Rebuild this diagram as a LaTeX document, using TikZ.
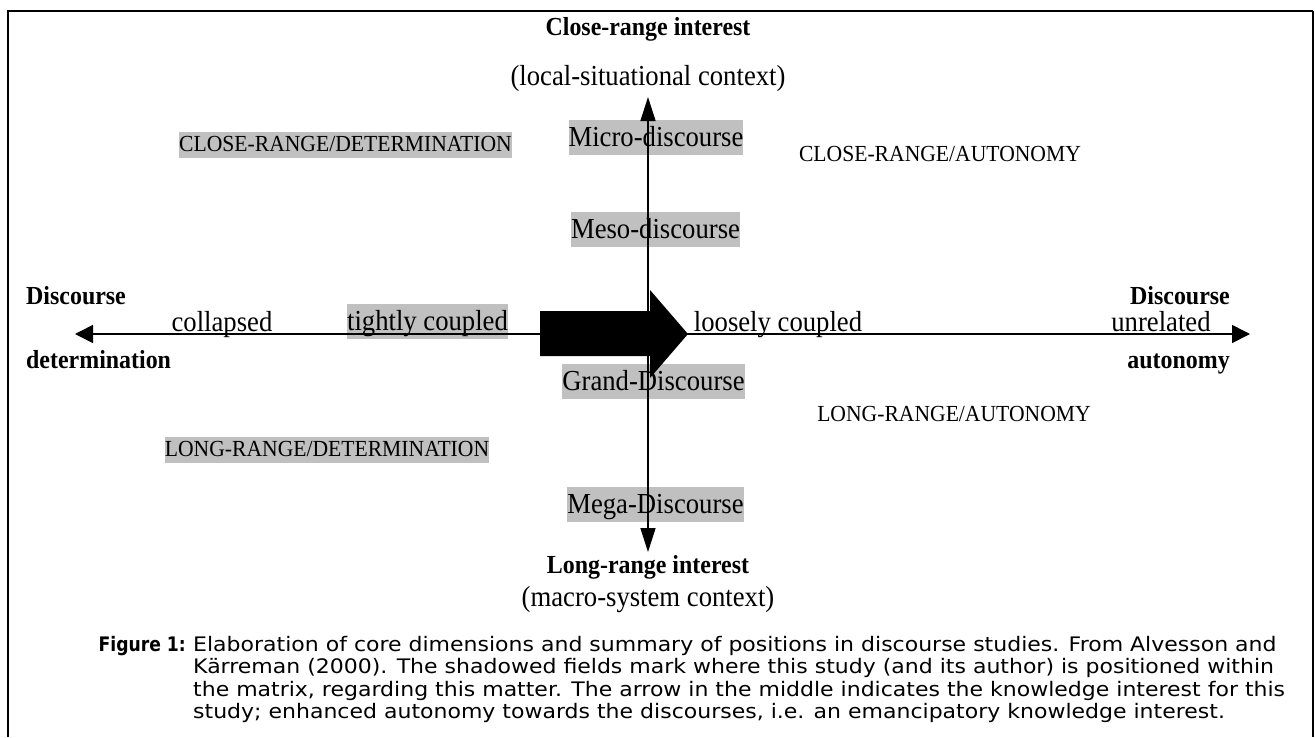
\documentclass[tikz,border=0pt]{standalone}
\usepackage{fontspec}
\setmainfont{Liberation Serif}
\newfontfamily\lblfont{Liberation Serif}[FakeStretch=0.92]
\newfontfamily\quadfont{Liberation Serif}[FakeStretch=0.94]
\newfontfamily\capfont{DejaVu Sans}[FakeStretch=1.1]
\newfontfamily\capboldfont{DejaVu Sans}[FakeStretch=0.86]
\usetikzlibrary{arrows.meta}
\definecolor{shade}{RGB}{192,192,192}
\tikzset{
  lbl/.style={font=\lblfont\fontsize{29}{32}\selectfont, inner sep=0pt, text height=25pt, text depth=7pt},
  blbl/.style={font=\lblfont\bfseries\fontsize{26}{30}\selectfont, inner sep=0pt, text height=21pt, text depth=6pt},
  quad/.style={font=\quadfont\fontsize{23}{26}\selectfont, inner xsep=0pt, inner ysep=0.5pt, text height=18.5pt, text depth=6pt},
  shaded/.style={fill=shade, inner xsep=0pt, inner ysep=1.5pt},
  axis/.style={line width=1.6pt},
  vtip/.style={-{Triangle[length=24pt,width=15pt]}},
  htip/.style={-{Triangle[length=18pt,width=18pt]}},
  capt/.style={font=\capfont\fontsize{20}{22.5}\selectfont, inner sep=0pt, anchor=base west},
  frame/.style={line width=2.5pt}
}
\begin{document}
\begin{tikzpicture}[x=1pt,y=-1pt]
\useasboundingbox (0,0) rectangle (1315,737);
% frame
\draw[frame] (8,737) -- (8,11) -- (1313,11);
\draw[line width=1.2pt] (1313,11) -- (1313,737);

% headings
\node[blbl] (cri) at (648,28) {Close-range interest};
\node[lbl] (lsc) at (648,76) {(local-situational context)};
\node[blbl] (lri) at (648,566) {Long-range interest};
\node[lbl] (msc) at (648,597) {(macro-system context)};

% shaded discourse levels
\node[lbl,shaded] (micro) at (656,137) {Micro-discourse};
\node[lbl,shaded] (meso) at (655.5,229) {Meso-discourse};
\node[lbl,shaded] (grand) at (653.5,381) {Grand-Discourse};
\node[lbl,shaded] (mega) at (655.5,504.5) {Mega-Discourse};

% quadrants
\node[quad,fill=shade] (crd) at (345.5,145) {CLOSE-RANGE/DETERMINATION};
\node[quad] (cra) at (940,155) {CLOSE-RANGE/AUTONOMY};
\node[quad,fill=shade] (lrd) at (327,450) {LONG-RANGE/DETERMINATION};
\node[quad] (lra) at (954,415) {LONG-RANGE/AUTONOMY};

% horizontal labels
\node[blbl,anchor=west] (dleft) at (26,297) {Discourse};
\node[blbl,anchor=west] (det) at (26,361) {determination};
\node[blbl,anchor=east] (dright) at (1230,297) {Discourse};
\node[blbl,anchor=east] (aut) at (1230,361) {autonomy};
\node[lbl] (coll) at (222,322) {collapsed};
\node[lbl,shaded] (tight) at (427.5,321.5) {tightly coupled};
\node[lbl] (loose) at (778,322) {loosely coupled};
\node[lbl] (unrel) at (1161,322) {unrelated};

% axes
\coordinate (vc) at (648,334);
\coordinate (vtop) at (648,97);
\coordinate (vbot) at (648,552);
\coordinate (hl) at (75,334);
\coordinate (hr) at (1250,334);
\draw[axis,vtip] (vc) -- (vtop);
\draw[axis,vtip] (vc) -- (vbot);
\draw[axis,htip] (vc) -- (hl);
\draw[axis,htip] (vc) -- (hr);

% big arrow
\fill (540,311) -- (650,311) -- (650,290) -- (688,334) -- (650,378) -- (650,356) -- (540,356) -- cycle;

% caption
\node[capt,anchor=base east,font=\capboldfont\bfseries\fontsize{20}{22.5}\selectfont] (fig) at (186,651) {Figure 1:};
\node[capt] (c1) at (193,651) {Elaboration of core dimensions and summary of positions in discourse studies. From Alvesson and};
\node[capt] (c2) at (193,673.5) {Kärreman (2000). The shadowed fields mark where this study (and its author) is positioned within};
\node[capt] (c3) at (193,696) {the matrix, regarding this matter. The arrow in the middle indicates the knowledge interest for this};
\node[capt] (c4) at (193,718.5) {study; enhanced autonomy towards the discourses, i.e. an emancipatory knowledge interest.};
\end{tikzpicture}
\end{document}
